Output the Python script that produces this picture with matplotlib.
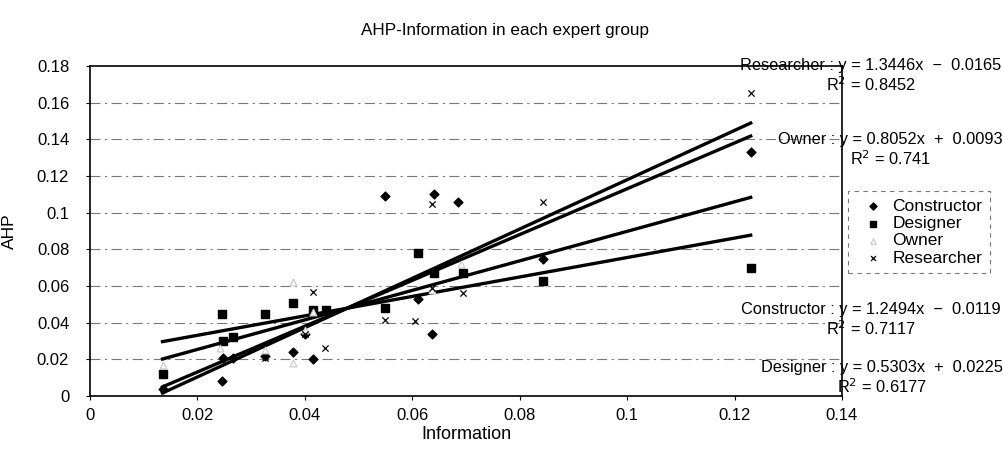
import numpy as np
import matplotlib.pyplot as plt

plt.rcParams['font.family'] = ['Liberation Sans', 'DejaVu Sans']

# Information (x) vs AHP weight (y) per expert group
con_x = [0.0135, 0.0246, 0.0248, 0.0266, 0.0326, 0.0378, 0.0400, 0.0415, 0.0549,
         0.0610, 0.0637, 0.0640, 0.0685, 0.0843, 0.1230]
con_y = [0.004, 0.008, 0.021, 0.021, 0.022, 0.024, 0.034, 0.020, 0.109,
         0.053, 0.034, 0.110, 0.106, 0.075, 0.133]

des_x = [0.0135, 0.0246, 0.0248, 0.0266, 0.0326, 0.0378, 0.0415, 0.0440, 0.0550,
         0.0610, 0.0640, 0.0695, 0.0843, 0.1230]
des_y = [0.012, 0.0447, 0.030, 0.032, 0.0447, 0.051, 0.047, 0.047, 0.048,
         0.078, 0.067, 0.067, 0.063, 0.070]

own_x = [0.0135, 0.0242, 0.0326, 0.0378, 0.0378, 0.0400, 0.0415, 0.0637, 0.0690]
own_y = [0.017, 0.026, 0.025, 0.062, 0.018, 0.036, 0.046, 0.058, 0.072]

res_x = [0.0326, 0.0400, 0.0415, 0.0437, 0.0550, 0.0605, 0.0637, 0.0637, 0.0695,
         0.0843, 0.1230]
res_y = [0.021, 0.034, 0.057, 0.026, 0.0415, 0.041, 0.1047, 0.059, 0.056,
         0.106, 0.165]

# trendline coefficients (slope, intercept, R^2) as printed on the chart
groups = ['Researcher', 'Owner', 'Constructor', 'Designer']
slopes = [1.3446, 0.8052, 1.2494, 0.5303]
intercepts = [-0.0165, 0.0093, -0.0119, 0.0225]
r2 = ['0.8452', '0.741', '0.7117', '0.6177']

x_ticks = [0, 0.02, 0.04, 0.06, 0.08, 0.1, 0.12, 0.14]
y_ticks = [0, 0.02, 0.04, 0.06, 0.08, 0.1, 0.12, 0.14, 0.16, 0.18]

fig = plt.figure(figsize=(10.04, 4.59), dpi=100)
ax = fig.add_axes([90 / 1004, 63 / 459, 752 / 1004, 330 / 459])

# broken-looking dashed gridlines like the scan
for yv in y_ticks[1:-1]:
    ax.axhline(yv, color='#777777', lw=0.8, ls=(0, (9, 4, 2, 4)), zorder=0)

# trendlines
xl = np.array([0.0135, 0.1230])
for m, b in zip(slopes, intercepts):
    ax.plot(xl, m * xl + b, color='black', lw=2.4, zorder=2)

ax.scatter(con_x, con_y, marker='D', s=20, color='black', zorder=3, label='Constructor')
ax.scatter(des_x, des_y, marker='s', s=32, color='black', zorder=3, label='Designer')
ax.scatter(own_x, own_y, marker='^', s=24, facecolor='white', edgecolor='#c8c8c8',
           linewidths=0.8, zorder=3, label='Owner')
ax.scatter(res_x, res_y, marker='x', s=20, color='black', linewidths=0.9, zorder=3,
           label='Researcher')

ax.set_xlim(0, 0.14)
ax.set_ylim(0, 0.18)
ax.set_xticks(x_ticks)
ax.set_xticklabels(['0', '0.02', '0.04', '0.06', '0.08', '0.1', '0.12', '0.14'])
ax.set_yticks(y_ticks)
ax.set_yticklabels(['0', '0.02', '0.04', '0.06', '0.08', '0.1', '0.12', '0.14',
                    '0.16', '0.18'])
ax.tick_params(labelsize=12, length=3, width=0.8, colors='black')
ax.tick_params(axis='y', pad=12)
ax.tick_params(axis='x', pad=6)
for s in ax.spines.values():
    s.set_linewidth(1.2)

ax.set_xlabel('Information', fontsize=13, labelpad=2)
ax.set_ylabel('AHP', fontsize=12.5, labelpad=14)
fig.text(505 / 1004, 1 - 30 / 459, 'AHP-Information in each expert group',
         ha='center', va='center', fontsize=12.3)

leg = fig.legend(loc='upper left', bbox_to_anchor=(848 / 1004, 1 - 191 / 459),
                 fontsize=12.5, frameon=True, handletextpad=0.1, borderpad=0.45,
                 labelspacing=0.12, handlelength=2.0, fancybox=False,
                 markerscale=0.8, borderaxespad=0)
leg.get_frame().set_edgecolor('#555555')
leg.get_frame().set_linestyle((0, (4, 4)))
leg.get_frame().set_linewidth(0.8)

# trendline equation labels, two centred lines each
label_pos = [(871, 76), (890, 150), (871, 320), (882, 378)]
for g, m, b, r, (px, py) in zip(groups, slopes, intercepts, r2, label_pos):
    sign = '+' if b >= 0 else '\u2212'
    txt = f'{g} : y = {m:.4f}x  {sign}  {abs(b):.4f}\nR$^2$ = {r}'
    fig.text(px / 1004, 1 - py / 459, txt, ha='center', va='center',
             multialignment='center', fontsize=11.8, linespacing=1.2)

fig.savefig('out.png', dpi=100)
